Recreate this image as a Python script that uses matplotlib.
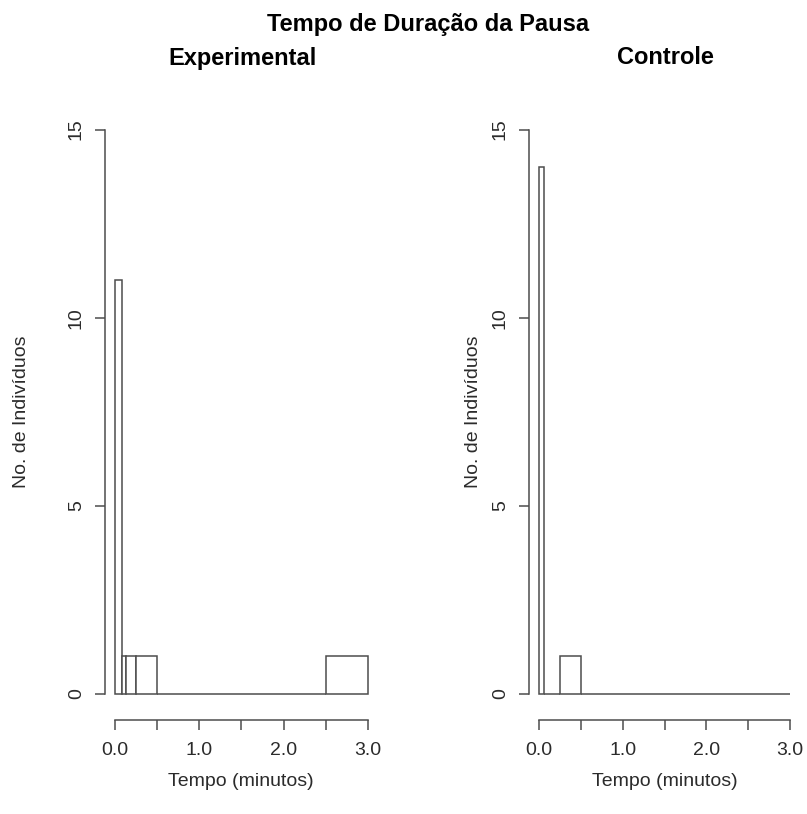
import numpy as np
import matplotlib
matplotlib.use("Agg")
from matplotlib import pyplot as plt

# histogram breaks (minutes) and counts per group
exp_breaks = [0.0, 0.083, 0.125, 0.25, 0.5, 1.0, 1.5, 2.0, 2.5, 3.0]
exp_counts = [11, 1, 1, 1, 0, 0, 0, 0, 1]
ctl_breaks = [0.0, 0.0625, 0.25, 0.5, 1.0, 1.5, 2.0, 2.5, 3.0]
ctl_counts = [14, 0, 1, 0, 0, 0, 0, 0]

x_ticks = [0.0, 0.5, 1.0, 1.5, 2.0, 2.5, 3.0]
x_labels = ["0.0", "", "1.0", "", "2.0", "", "3.0"]
y_ticks = [0, 5, 10, 15]

plt.rcParams['font.family'] = ['Liberation Sans', 'DejaVu Sans']
line_col = '#4d4d4d'
text_col = '#2b2b2b'
lw = 1.1

W, H = 807, 814
fig = plt.figure(figsize=(W / 100, H / 100), dpi=100)


def px_axes(x0, y0, x1, y1):
    return fig.add_axes([x0 / W, 1 - y1 / H, (x1 - x0) / W, (y1 - y0) / H])


def draw_hist(ax, breaks, counts):
    breaks = np.asarray(breaks)
    ax.bar(breaks[:-1], counts, width=np.diff(breaks), align='edge',
           facecolor='white', edgecolor=line_col, linewidth=lw)
    ax.set_xlim(-0.12, 3.12)
    ax.set_ylim(-0.69, 15.6)
    for s in ['top', 'right']:
        ax.spines[s].set_visible(False)
    ax.spines['left'].set_bounds(0, 15)
    ax.spines['bottom'].set_bounds(0, 3)
    for s in ['left', 'bottom']:
        ax.spines[s].set_color(line_col)
        ax.spines[s].set_linewidth(lw)
    ax.set_xticks(x_ticks)
    ax.set_xticklabels(x_labels)
    ax.set_yticks(y_ticks)
    ax.set_yticklabels([str(v) for v in y_ticks], rotation=90, va='center')
    ax.tick_params(direction='out', length=7.5, width=lw, color=line_col,
                   labelsize=14, labelcolor=text_col)
    ax.tick_params(axis='x', pad=8)
    ax.tick_params(axis='y', pad=7)


ax1 = px_axes(105, 107, 378, 720)
draw_hist(ax1, exp_breaks, exp_counts)
ax2 = px_axes(529, 107, 800, 720)
draw_hist(ax2, ctl_breaks, ctl_counts)

# titles and axis labels placed in figure pixels
def ftext(x, y, s, **kw):
    fig.text(x / W, 1 - y / H, s, ha='center', va='center', **kw)

ftext(428, 24, 'Tempo de Duração da Pausa', fontsize=17, fontweight='bold')
ftext(242, 58, 'Experimental', fontsize=17, fontweight='bold')
ftext(665, 58, 'Controle', fontsize=17, fontweight='bold')
for cx, ly in [(241, 22), (665, 474)]:
    ftext(cx, 781, 'Tempo (minutos)', fontsize=14, color=text_col)
    ftext(ly, 412, 'No. de Indivíduos', fontsize=14, color=text_col, rotation=90)

fig.savefig('out.png', dpi=100, facecolor='white')
